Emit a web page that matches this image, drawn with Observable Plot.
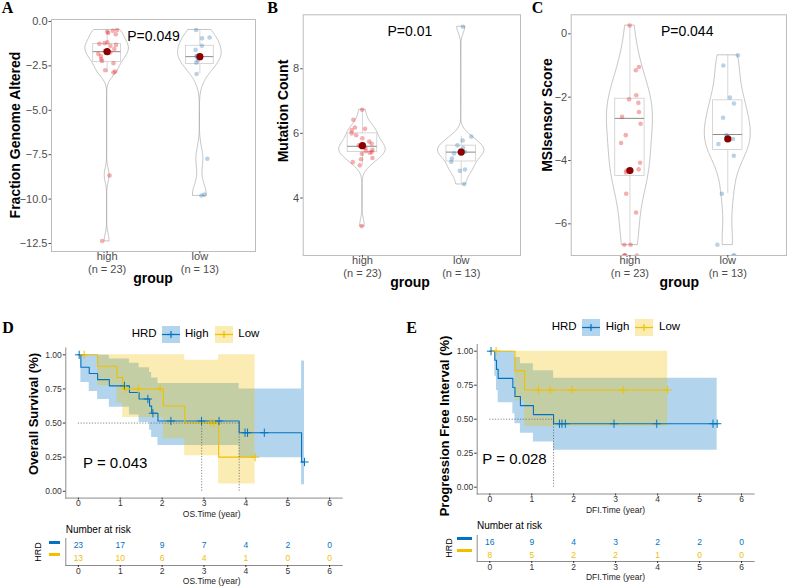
<!DOCTYPE html>
<html>
<head>
<meta charset="utf-8">
<script src="https://cdn.jsdelivr.net/npm/d3@7"></script>
<script src="https://cdn.jsdelivr.net/npm/@observablehq/plot@0.6"></script>
<style>
  body { margin: 0; background: #fff; }
  #fig { position: relative; width: 788px; height: 587px; overflow: hidden; background: #fff; }
  #fig svg { position: absolute; }
</style>
</head>
<body>
<div id="fig"></div>
<script>
// ---------- violin panels: per-sample values by HRD group ----------
const groupNames = ["high", "low"];
const pointColors = ["#E41A1C", "#377EB8"];

const fgaHigh = [-0.48, -0.52, -0.58, -0.65, -0.72, -1.18, -1.22, -1.26, -1.32, -1.38, -1.55, -1.68,
                 -1.74, -1.82, -1.95, -2.12, -2.22, -2.35, -2.75, -2.82, -2.88, -8.67, -12.36];
const fgaLow = [-0.48, -0.9, -0.95, -1.37, -1.6, -1.93, -1.98, -2.2, -2.32, -2.96, -7.73, -9.75, -9.8];

const mutHigh = [6.73, 6.42, 6.18, 6.14, 6.1, 6.0, 5.94, 5.85, 5.75, 5.68, 5.63, 5.6, 5.55, 5.49,
                 5.45, 5.42, 5.4, 5.37, 5.24, 5.2, 5.11, 5.01, 3.13];
const mutLow = [9.3, 5.9, 5.78, 5.63, 5.55, 5.48, 5.43, 5.38, 5.22, 5.12, 4.88, 4.84, 4.43];

// log MSIsensor scores; a score of zero gives -Infinity
const msiHigh = [0.26, -1.05, -1.15, -1.94, -2.07, -2.18, -2.47, -2.62, -2.84, -3.2, -3.45, -4.07,
                 -4.28, -4.32, -4.38, -5.05, -5.64, -6.66, -6.66, -Infinity, -Infinity, -Infinity, -Infinity];
const msiLow = [-0.68, -1.0, -2.01, -2.2, -2.65, -3.2, -3.32, -3.48, -3.85, -5.05, -6.66, -Infinity, -Infinity];

// box summaries [lower whisker, q1, median, q3, upper whisker]
const fgaBoxHigh = [-2.88, -2.29, -1.7, -1.27, -0.48];
const fgaBoxLow = [-2.96, -2.39, -1.98, -1.37, -0.48];
const mutBoxHigh = [5.01, 5.42, 5.6, 6.0, 6.73];
const mutBoxLow = [4.43, 5.13, 5.42, 5.62, 5.9];
const msiBoxHigh = [-6.66, -4.49, -2.67, -2.05, 0.26];
const msiBoxLow = [-5.05, -3.67, -3.18, -2.1, -0.68];

// group medians (dark red dots)
const fgaMedian = [-1.7, -1.98];
const mutMedian = [5.62, 5.42];
const msiMedian = [-4.32, -3.32];

const fgaDomain = [-12.95, 0.11], fgaTicks = [0, -2.5, -5, -7.5, -10, -12.5];
const mutDomain = [2.22, 9.67], mutTicks = [4, 6, 8];
const msiDomain = [-7.0, 0.6], msiTicks = [0, -2, -4, -6];

// ---------- survival: follow-up time (years) and event flag ----------
const hrdGroups = ["High", "Low"];
const hrdColors = ["#0073C2", "#EFC000"];

const osTimeHigh = [0.02, 0.06, 0.06, 0.26, 0.46, 0.74, 1.10, 1.22, 1.45, 1.66, 1.70, 1.75, 1.78, 1.90,
                    2.21, 2.94, 3.36, 3.84, 3.98, 4.04, 4.44, 5.33, 5.40];
const osEventHigh = [0, 1, 1, 1, 1, 1, 0, 1, 1, 0, 1, 1, 0, 1, 0, 0, 0, 1, 0, 0, 0, 1, 0];
const osTimeLow = [0.14, 0.46, 0.92, 1.06, 1.13, 1.43, 1.95, 2.03, 2.54, 3.16, 3.24, 3.35, 4.22];
const osEventLow = [0, 1, 1, 1, 0, 0, 0, 1, 1, 0, 0, 1, 0];

const dfiTimeHigh = [0.03, 0.12, 0.16, 0.20, 0.55, 0.60, 0.73, 1.04, 1.52, 1.66, 1.72, 1.80, 2.96, 3.98, 5.32, 5.42];
const dfiEventHigh = [0, 1, 1, 1, 1, 1, 1, 1, 1, 0, 0, 0, 0, 0, 0, 0];
const dfiTimeLow = [0.15, 0.60, 0.83, 1.16, 1.44, 1.96, 3.18, 4.24];
const dfiEventLow = [0, 1, 1, 0, 0, 0, 0, 0];

const riskTimes = [0, 1, 2, 3, 4, 5, 6];
const osRiskHigh = [23, 17, 9, 7, 4, 2, 0];
const osRiskLow = [13, 10, 6, 4, 1, 0, 0];
const dfiRiskHigh = [16, 9, 4, 3, 2, 2, 0];
const dfiRiskLow = [8, 5, 2, 2, 1, 0, 0];

// ---------- helpers ----------
const SANS = "'Liberation Sans', Arial, Helvetica, sans-serif";
const SERIF = "'Liberation Serif', 'Times New Roman', serif";
const fig = document.getElementById("fig");

function put(svg, left, top) {
  svg.style.left = left + "px";
  svg.style.top = top + "px";
  fig.appendChild(svg);
}

function txt(s, x, y, o = {}) {
  const d = document.createElement("div");
  d.textContent = s;
  const size = o.size || 12;
  const tx = o.anchor === "start" ? "0" : "-50%";
  d.style.cssText = `position:absolute;left:${x}px;top:${y}px;white-space:nowrap;line-height:1;` +
    `font-family:${o.family || SANS};font-size:${size}px;font-weight:${o.weight || "normal"};` +
    `color:${o.color || "#000"};transform:translate(${tx},-50%)${o.rotate ? " rotate(" + o.rotate + "deg)" : ""};`;
  fig.appendChild(d);
}

// Gaussian KDE (nrd0 bandwidth) over the data range, scaled to a fixed half-width
const VIOLIN_HALF = 0.235;
function violinShape(vals) {
  const sorted = [...vals].sort(d3.ascending);
  const iqr = d3.quantileSorted(sorted, 0.75) - d3.quantileSorted(sorted, 0.25);
  const bw = 0.9 * Math.min(d3.deviation(vals), iqr / 1.34) * Math.pow(vals.length, -0.2);
  const [lo, hi] = d3.extent(vals);
  const n = 160;
  const ys = d3.range(n).map(i => lo + (hi - lo) * i / (n - 1));
  const dens = ys.map(y => d3.mean(vals, v => Math.exp(-0.5 * ((y - v) / bw) ** 2)));
  const mx = d3.max(dens);
  return ys.map((y, i) => ({y, hw: VIOLIN_HALF * dens[i] / mx}));
}

function violinPanel(cfg) {
  const rows = cfg.values.map((vals, i) => {
    const b = cfg.box[i];
    return {pos: i + 1, name: groupNames[i], n: vals.length, vals, color: pointColors[i],
            lo: b[0], q1: b[1], med: b[2], q3: b[3], hi: b[4], dot: cfg.median[i]};
  });
  const rnd = d3.randomUniform.source(d3.randomLcg(cfg.seed))(-0.11, 0.11);
  const floorY = cfg.domain[0];
  const marks = [
    Plot.frame({stroke: "#bdbdbd", strokeWidth: 1}),
    Plot.axisY({ticks: cfg.ticks, tickFormat: cfg.fmt, tickSize: 2.5, tickPadding: 1.5, fontSize: 11, label: null}),
    Plot.axisX({ticks: [1, 2], tickFormat: () => "", tickSize: 2.5, label: null})
  ];
  for (const r of rows) {
    const shape = violinShape(r.vals.filter(Number.isFinite));
    marks.push(Plot.areaX(shape, {y: "y", x1: d => r.pos - d.hw, x2: d => r.pos + d.hw,
      fill: "white", stroke: "#9e9e9e", strokeWidth: 0.6}));
  }
  marks.push(
    Plot.ruleX(rows, {x: "pos", y1: "q3", y2: "hi", stroke: "#cccccc", strokeWidth: 0.8}),
    Plot.ruleX(rows, {x: "pos", y1: "lo", y2: "q1", stroke: "#cccccc", strokeWidth: 0.8}),
    Plot.rect(rows, {x1: d => d.pos - 0.15, x2: d => d.pos + 0.15, y1: "q1", y2: "q3",
      fill: "none", stroke: "#cccccc", strokeWidth: 0.8}),
    Plot.ruleY(rows, {y: "med", x1: d => d.pos - 0.15, x2: d => d.pos + 0.15, stroke: "#8c8c8c", strokeWidth: 1})
  );
  for (const r of rows) {
    const pts = r.vals.map(v => ({v, jx: rnd()}));
    marks.push(Plot.dot(pts, {x: d => r.pos + d.jx, y: d => Number.isFinite(d.v) ? d.v : floorY,
      r: 2.3, fill: r.color, fillOpacity: 0.35, clip: true}));
  }
  marks.push(
    Plot.dot(rows, {x: "pos", y: "dot", r: 3.6, fill: "#8B0000"}),
    Plot.text(rows, {x: "pos", text: "name", frameAnchor: "bottom", dy: 8, fontSize: 11, fill: "#4d4d4d"}),
    Plot.text(rows, {x: "pos", text: d => `(n = ${d.n})`, frameAnchor: "bottom", dy: 21, fontSize: 11, fill: "#4d4d4d"}),
    Plot.text([cfg.p], {x: () => cfg.pX, text: d => d, frameAnchor: "top", dy: 11.7, fontSize: 14, fill: "#000"})
  );
  return Plot.plot({
    width: cfg.w, height: cfg.h,
    marginLeft: cfg.m[0], marginRight: cfg.m[1], marginTop: cfg.m[2], marginBottom: cfg.m[3],
    x: {domain: [0.4, 2.6]},
    y: {domain: cfg.domain},
    style: {fontFamily: SANS, color: "#4d4d4d", background: "transparent", overflow: "visible"},
    marks
  });
}

// Kaplan-Meier estimate with log-type 95% confidence band (Greenwood variance)
function km(time, event) {
  const order = d3.range(time.length).sort((a, b) => time[a] - time[b]);
  let n = time.length, s = 1, v = 0;
  const steps = [{t: 0, s: 1, lo: 1, hi: 1}];
  const cens = [];
  for (const t of Array.from(new Set(order.map(i => time[i])))) {
    const at = order.filter(i => time[i] === t);
    const d = at.filter(i => event[i] === 1).length;
    if (d > 0) {
      s *= (n - d) / n;
      v += d / (n * (n - d));
      const se = Math.sqrt(v);
      steps.push({t, s, lo: s * Math.exp(-1.96 * se), hi: Math.min(1, s * Math.exp(1.96 * se)), event: true});
    }
    if (at.length > d) cens.push({t, s});
    n -= at.length;
  }
  const last = steps[steps.length - 1];
  const tmax = d3.max(time);
  if (last.t < tmax) steps.push({...last, t: tmax, event: false});
  return {steps, cens};
}

function medianSurv(steps) {
  for (let i = 1; i < steps.length; i++) {
    const st = steps[i];
    if (!st.event || st.s > 0.5 + 1e-9) continue;
    if (Math.abs(st.s - 0.5) < 1e-9) {
      const nxt = steps.slice(i + 1).find(d => d.event);
      return nxt ? (st.t + nxt.t) / 2 : st.t;
    }
    return st.t;
  }
  return null;
}

const AXIS = "#8c8c8c";
const xDomainKM = [-0.3, 6.3];
const intFmt = d3.format("d");

function kmPanel(cfg) {
  const fits = cfg.groups.map(g => ({...g, ...km(g.time, g.event)}));
  const meds = fits.map(f => medianSurv(f.steps)).filter(m => m != null);
  const dotted = {stroke: "#555", strokeWidth: 0.7, strokeDasharray: "1.2,1.6"};
  const marks = [
    Plot.frame({anchor: "left", stroke: AXIS}),
    Plot.frame({anchor: "bottom", stroke: AXIS}),
    Plot.axisX({ticks: riskTimes, tickFormat: intFmt, tickSize: 2, tickPadding: 0, fontSize: 8.5, label: null}),
    Plot.axisY({ticks: [0, 0.25, 0.5, 0.75, 1], tickFormat: d3.format(".2f"), tickSize: 2.5, tickPadding: 1.5, fontSize: 8.5, label: null}),
    ...fits.map(f => Plot.areaY(f.steps, {x: "t", y1: "lo", y2: "hi", curve: "step-after", fill: f.color, fillOpacity: 0.3})),
    ...fits.map(f => Plot.line(f.steps, {x: "t", y: "s", curve: "step-after", stroke: f.color, strokeWidth: 1.1})),
    ...fits.map(f => Plot.dot(f.cens, {x: "t", y: "s", symbol: "plus", stroke: f.color, r: 2.8, strokeWidth: 1})),
    Plot.ruleY([0.5], {x1: () => 0, x2: () => d3.max(meds), ...dotted}),
    Plot.ruleX(meds, {x: d => d, y1: () => 0, y2: () => 0.5, ...dotted})
  ];
  return Plot.plot({
    width: cfg.w, height: cfg.h,
    marginLeft: cfg.m[0], marginRight: cfg.m[1], marginTop: cfg.m[2], marginBottom: cfg.m[3],
    x: {domain: xDomainKM},
    y: {domain: [-0.05, 1.05]},
    style: {fontFamily: SANS, color: "#333", background: "transparent", overflow: "visible"},
    marks
  });
}

function riskPanel(cfg) {
  return Plot.plot({
    width: cfg.w, height: cfg.h,
    marginLeft: cfg.m[0], marginRight: cfg.m[1], marginTop: cfg.m[2], marginBottom: cfg.m[3],
    x: {domain: xDomainKM},
    y: {type: "point", domain: hrdGroups, axis: null},
    style: {fontFamily: SANS, color: "#333", background: "transparent", overflow: "visible"},
    marks: [
      Plot.frame({anchor: "left", stroke: AXIS}),
      Plot.frame({anchor: "bottom", stroke: AXIS}),
      Plot.axisX({ticks: riskTimes, tickFormat: intFmt, tickSize: 2, tickPadding: 0, fontSize: 8.5, label: null}),
      ...cfg.rows.map((counts, i) => Plot.text(riskTimes, {x: d => d, y: () => hrdGroups[i],
        text: (d, j) => counts[j], fill: hrdColors[i], fontSize: 8.5}))
    ]
  });
}

function legendKey(x, y, color) {
  const ns = "http://www.w3.org/2000/svg";
  const s = document.createElementNS(ns, "svg");
  s.setAttribute("width", 18); s.setAttribute("height", 17);
  s.innerHTML = `<rect x="0" y="0" width="18" height="17" fill="${color}" fill-opacity="0.3"/>` +
    `<line x1="0" y1="8.5" x2="18" y2="8.5" stroke="${color}" stroke-width="1.2"/>` +
    `<line x1="9" y1="5" x2="9" y2="12" stroke="${color}" stroke-width="1.2"/>` +
    `<line x1="5.5" y1="8.5" x2="12.5" y2="8.5" stroke="${color}" stroke-width="1.2"/>`;
  put(s, x, y);
}

function bar(x1, x2, y, color) {
  const d = document.createElement("div");
  d.style.cssText = `position:absolute;left:${x1}px;top:${y - 1.3}px;width:${x2 - x1}px;height:2.6px;background:${color};`;
  fig.appendChild(d);
}

// ---------- panels A-C ----------
put(violinPanel({values: [fgaHigh, fgaLow], box: [fgaBoxHigh, fgaBoxLow], median: fgaMedian,
  domain: fgaDomain, ticks: fgaTicks, fmt: d3.format(".1f"), p: "P=0.049", pX: 1.5, seed: 0.11,
  w: 262, h: 300, m: [51, 7, 19, 49]}), 0, 0);
put(violinPanel({values: [mutHigh, mutLow], box: [mutBoxHigh, mutBoxLow], median: mutMedian,
  domain: mutDomain, ticks: mutTicks, fmt: d3.format("d"), p: "P=0.01", pX: 1.48, seed: 0.37,
  w: 264, h: 300, m: [40.7, 6, 14.3, 45]}), 262, 0);
put(violinPanel({values: [msiHigh, msiLow], box: [msiBoxHigh, msiBoxLow], median: msiMedian,
  domain: msiDomain, ticks: msiTicks, fmt: d3.format("d"), p: "P=0.044", pX: 1.585, seed: 0.73,
  w: 260, h: 300, m: [42.7, 2, 14.3, 45]}), 528, 0);

// ---------- panels D, E ----------
put(kmPanel({groups: [
    {time: osTimeHigh, event: osEventHigh, color: hrdColors[0]},
    {time: osTimeLow, event: osEventLow, color: hrdColors[1]}],
  w: 310, h: 172, m: [25.3, 8.3, 9.5, 12.4]}), 40, 338);
put(kmPanel({groups: [
    {time: dfiTimeHigh, event: dfiEventHigh, color: hrdColors[0]},
    {time: dfiTimeLow, event: dfiEventLow, color: hrdColors[1]}],
  w: 320, h: 176, m: [36.7, 6.4, 9.9, 16.5]}), 440, 334);

put(riskPanel({rows: [osRiskHigh, osRiskLow], w: 310, h: 57, m: [25.3, 8.3, 8, 22]}), 40, 530);
put(riskPanel({rows: [dfiRiskHigh, dfiRiskLow], w: 320, h: 60, m: [36.7, 6.4, 8, 26]}), 440, 527);

// ---------- titles, labels, legends ----------
const letter = {size: 16, weight: "bold", family: SERIF};
txt("A", 7.5, 8, letter);
txt("B", 272.5, 8, letter);
txt("C", 537.5, 8, letter);
txt("D", 8, 328, letter);
txt("E", 411.5, 328, letter);

const axTitle = {size: 14, weight: "bold"};
txt("Fraction Genome Altered", 15, 135, {...axTitle, rotate: -90});
txt("Mutation Count", 283, 111, {...axTitle, rotate: -90});
txt("MSIsensor Score", 547, 115, {...axTitle, rotate: -90});
txt("group", 153, 278, axTitle);
txt("group", 410, 281.7, axTitle);
txt("group", 679.3, 281.7, axTitle);

txt("Overall Survival (%)", 33.3, 414, {size: 13, weight: "bold", rotate: -90});
txt("Progression Free Interval (%)", 444.2, 426, {size: 13, weight: "bold", rotate: -90});
txt("OS.Time (year)", 211.7, 514.3, {size: 8.5, color: "#222"});
txt("DFI.Time (year)", 615.5, 510, {size: 8.5, color: "#222"});
txt("OS.Time (year)", 211.7, 581.2, {size: 8.5, color: "#222"});
txt("DFI.Time (year)", 615.5, 576.8, {size: 8.5, color: "#222"});
txt("P = 0.043", 83, 461.7, {size: 15, anchor: "start"});
txt("P = 0.028", 482.3, 457.5, {size: 15, anchor: "start"});

txt("Number at risk", 65.7, 530, {size: 10, anchor: "start"});
txt("Number at risk", 477, 525.7, {size: 10, anchor: "start"});
txt("HRD", 37.7, 551.7, {size: 9, rotate: -90});
txt("HRD", 448.5, 548.3, {size: 9, rotate: -90});
bar(49.3, 60, 542.7, hrdColors[0]);
bar(49.3, 60, 554.3, hrdColors[1]);
bar(456.7, 471.7, 538.5, hrdColors[0]);
bar(456.7, 471.7, 550.7, hrdColors[1]);

// survival legends
txt("HRD", 131.7, 334, {size: 11.5, anchor: "start"});
legendKey(162, 326, hrdColors[0]);
txt(hrdGroups[0], 185, 334, {size: 11.5, anchor: "start"});
legendKey(215, 326, hrdColors[1]);
txt(hrdGroups[1], 238.3, 334, {size: 11.5, anchor: "start"});

txt("HRD", 551.7, 327.3, {size: 11.5, anchor: "start"});
legendKey(581.7, 319, hrdColors[0]);
txt(hrdGroups[0], 605.7, 327.3, {size: 11.5, anchor: "start"});
legendKey(635, 319, hrdColors[1]);
txt(hrdGroups[1], 659, 327.3, {size: 11.5, anchor: "start"});
</script>
</body>
</html>
